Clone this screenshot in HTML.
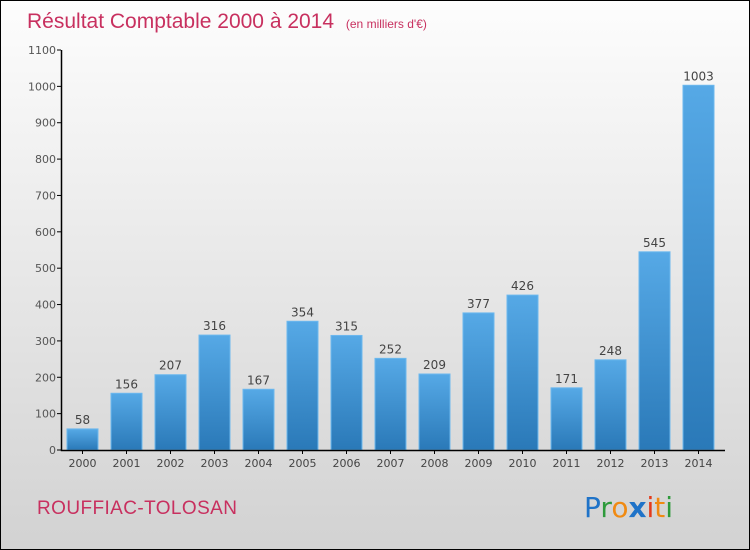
<!DOCTYPE html>
<html><head><meta charset="utf-8"><style>
body{margin:0}
#c{width:748px;height:548px;border:1px solid #000;background:linear-gradient(#fdfdfd,#d2d2d2);position:relative;overflow:hidden;font-family:"DejaVu Sans","Liberation Sans",sans-serif}
svg{position:absolute;left:0;top:0}
</style></head><body>
<div id="c">
<svg width="748" height="548" id="s">
<defs><linearGradient id="g" x1="0" y1="0" x2="0" y2="1"><stop offset="0" stop-color="#56a9e6"/><stop offset="1" stop-color="#2a79b8"/></linearGradient></defs>
<text x="26" y="27" font-size="21" fill="#c8305f" font-family="Liberation Sans,sans-serif">Résultat Comptable 2000 à 2014 <tspan font-size="12" dx="6">(en milliers d'€)</tspan></text>
<text x="36" y="513" font-size="19" fill="#c8305f" font-family="Liberation Sans,sans-serif" textLength="200">ROUFFIAC-TOLOSAN</text>
<g font-size="28" font-family="DejaVu Sans,sans-serif">
<text x="583" y="516"><tspan fill="#1f73c8">P</tspan><tspan fill="#2e9a3b">r</tspan><tspan fill="#f08a12">o</tspan><tspan fill="#1f73c8" font-weight="bold">x</tspan><tspan fill="#e43a1a">i</tspan><tspan fill="#f08a12">t</tspan><tspan fill="#2e9a3b">i</tspan></text></g>
</svg>
</div>
<script>
const years=["2000","2001","2002","2003","2004","2005","2006","2007","2008","2009","2010","2011","2012","2013","2014"];
const values=[58,156,207,316,167,354,315,252,209,377,426,171,248,545,1003];
const yTicks=[0,100,200,300,400,500,600,700,800,900,1000,1100];
const s=document.getElementById('s');const NS='http://www.w3.org/2000/svg';
const y=v=>449-v*(400/1100);
const x=i=>81.5+i*44;
function el(t,a,p){const e=document.createElementNS(NS,t);for(const k in a)e.setAttribute(k,a[k]);(p||s).appendChild(e);return e;}
yTicks.forEach(t=>{
 const ln=el('line',{x1:56,x2:60,y1:y(t),y2:y(t),stroke:'#000'});
 
 
 const tx=el('text',{x:55,y:y(t)+4,'font-size':11,fill:'#555','text-anchor':'end'});tx.textContent=t;
 
 
});
values.forEach((v,i)=>{
 const r=el('rect',{x:x(i)-15.5,y:y(v),width:31,height:449-y(v),fill:'url(#g)',stroke:'#6cb8ee','stroke-width':1});
 
 
 const t=el('text',{x:x(i),y:y(v)-5,'font-size':12,fill:'#444','text-anchor':'middle'});t.textContent=v;
 
 
 const k=el('line',{x1:x(i),x2:x(i),y1:449,y2:453,stroke:'#000'});
 
 
 const l=el('text',{x:x(i),y:466,'font-size':11,fill:'#444','text-anchor':'middle'});l.textContent=years[i];
 
 
});
const ax=el('path',{d:'M60.5 49V449.5H724',stroke:'#000',fill:'none','stroke-width':1.5});


</script>
</body></html>
